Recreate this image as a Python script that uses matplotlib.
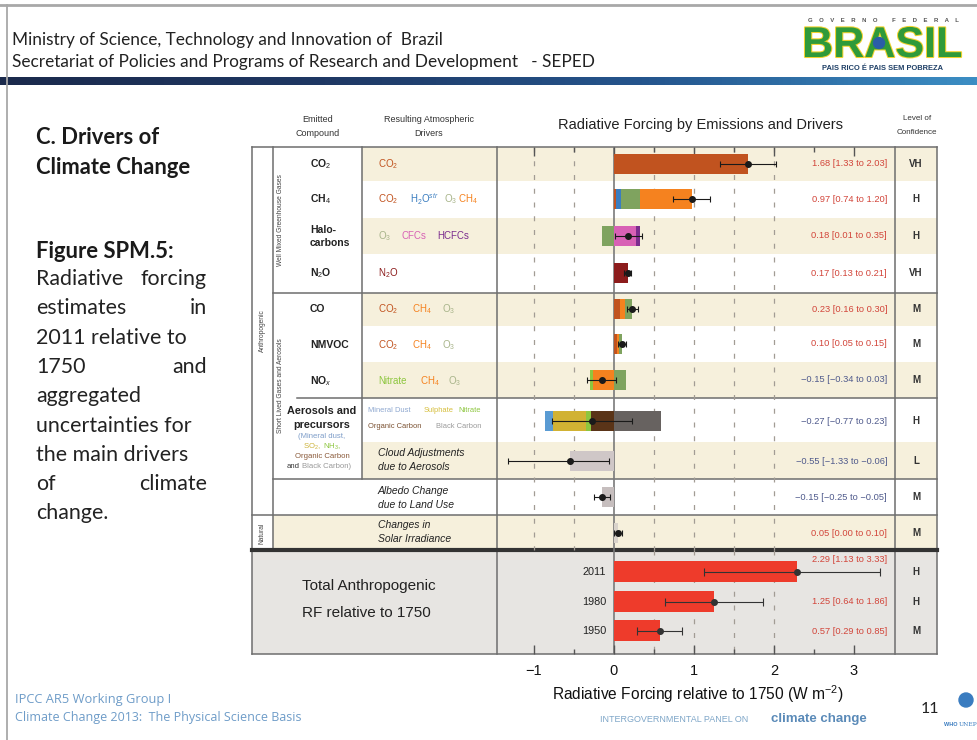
import numpy as np
import matplotlib.pyplot as plt
from matplotlib.colors import LinearSegmentedColormap
from matplotlib.patches import Circle, Rectangle
import matplotlib.patheffects as pe

plt.rcParams['font.family'] = ['Liberation Sans', 'DejaVu Sans']
plt.rcParams['mathtext.fontset'] = 'custom'
plt.rcParams['mathtext.rm'] = 'Liberation Sans'
plt.rcParams['mathtext.it'] = 'Liberation Sans:italic'
plt.rcParams['mathtext.bf'] = 'Liberation Sans:bold'

# ---- data: forcing by emitted compound (W m-2) ----
compounds = ['CO2', 'CH4', 'Halocarbons', 'N2O', 'CO', 'NMVOC', 'NOx',
             'Aerosols', 'Cloud', 'Albedo', 'Solar']
best = [1.68, 0.97, 0.18, 0.17, 0.23, 0.10, -0.15, -0.27, -0.55, -0.15, 0.05]
low = [1.33, 0.74, 0.01, 0.13, 0.16, 0.05, -0.34, -0.77, -1.33, -0.25, 0.00]
high = [2.03, 1.20, 0.35, 0.21, 0.30, 0.15, 0.03, 0.23, -0.06, -0.05, 0.10]
confidence = ['VH', 'H', 'H', 'VH', 'M', 'M', 'M', 'H', 'L', 'M', 'M']

# stacked components per row (driver, value), negatives stack outward from 0
parts_co2 = [('CO2', 1.68)]
parts_ch4 = [('CO2', 0.02), ('H2O', 0.07), ('O3', 0.24), ('CH4', 0.64)]
parts_halo = [('O3', -0.15), ('CFCs', 0.28), ('HCFCs', 0.05)]
parts_n2o = [('N2O', 0.17)]
parts_co = [('CO2', 0.07), ('CH4', 0.07), ('O3', 0.09)]
parts_nmvoc = [('CO2', 0.035), ('CH4', 0.025), ('O3', 0.04)]
parts_nox = [('CH4', -0.26), ('Nitrate', -0.04), ('O3', 0.15)]
parts_aer = [('OC', -0.29), ('Nitrate', -0.06), ('Sulphate', -0.41),
             ('Dust', -0.10), ('BC', 0.59)]
parts_cloud = [('Cloud', -0.55)]
parts_albedo = [('Albedo', -0.15)]
parts_solar = [('Solar', 0.05)]
all_parts = [parts_co2, parts_ch4, parts_halo, parts_n2o, parts_co, parts_nmvoc,
             parts_nox, parts_aer, parts_cloud, parts_albedo, parts_solar]

# total anthropogenic
years = ['2011', '1980', '1950']
total_best = [2.29, 1.25, 0.57]
total_low = [1.13, 0.64, 0.29]
total_high = [3.33, 1.86, 0.85]
total_conf = ['H', 'H', 'M']

# ---- styles ----
colors = {'CO2': '#C1531F', 'H2O': '#3A7DC0', 'O3': '#7FA35F', 'CH4': '#F5821F',
          'CFCs': '#D861B5', 'HCFCs': '#7B2D8E', 'N2O': '#8C1C1C',
          'Nitrate': '#8DC63F', 'Dust': '#5A9BD3', 'Sulphate': '#D1B233',
          'OC': '#5A3418', 'BC': '#676260', 'Cloud': '#CFC7C7',
          'Albedo': '#C6BEBE', 'Solar': '#D9D3CB'}
BEIGE = '#F6F0DC'
LINE = '#6E6E6E'
POS_TXT = '#D2453A'
NEG_TXT = '#4F5A8C'

W, H = 978, 740
fig = plt.figure(figsize=(W / 100, H / 100), dpi=100)
fig.patch.set_facecolor('white')
pg = fig.add_axes([0, 0, 1, 1])

# header gradient band
band = LinearSegmentedColormap.from_list('band', ['#1B2A4C', '#1F3864', '#25568E', '#3C8EC4'])
pg.imshow(np.linspace(0, 1, 256)[None, :], extent=(0, W, 85, 77), aspect='auto', cmap=band)
pg.set_xlim(0, W)
pg.set_ylim(H, 0)
pg.axis('off')

pg.plot([0, W], [5, 5], color='#A8A8A8', lw=2)
pg.plot([7, 7], [5, H], color='#A8A8A8', lw=1.3)

slide = ['Lato', 'DejaVu Sans']
pg.text(12, 40, 'Ministry of Science, Technology and Innovation of  Brazil',
        fontsize=12.4, family=slide, va='center', color='#222')
pg.text(12, 62, 'Secretariat of Policies and Programs of Research and Development   - SEPED',
        fontsize=12.4, family=slide, va='center', color='#222')

# Brasil logo
pg.text(883, 21, 'G    O    V    E    R    N    O         F    E    D    E    R    A    L',
        fontsize=4.3, fontweight='bold', ha='center', va='center', color='#555')
pg.text(882, 46, 'BRASIL', fontsize=31, fontweight='bold', ha='center', va='center',
        color='#2F9A3A', path_effects=[pe.withStroke(linewidth=1.5, foreground='#F2D22E')])
pg.add_patch(Circle((879, 43), 5.5, color='#2A5DA8', zorder=5))
pg.text(882, 68, 'PAIS RICO É PAIS SEM POBREZA', fontsize=5.4, fontweight='bold',
        ha='center', va='center', color='#1E3F66')

# left description
head = dict(fontsize=15.8, fontweight='bold', family=slide, va='center', color='#1a1a1a')
pg.text(36, 138, 'C. Drivers of', **head)
pg.text(36, 167, 'Climate Change', **head)
pg.text(36, 251, 'Figure SPM.5:', **head)
body = [('Radiative', 'forcing'), ('estimates', 'in'), ('2011 relative to', None),
        ('1750', 'and'), ('aggregated', None), ('uncertainties for', None),
        ('the main drivers', None), ('of', 'climate'), ('change.', None)]
for i, (a, b) in enumerate(body):
    y = 279 + i * 29.3
    pg.text(36, y, a, fontsize=15.4, family=slide, va='center', color='#222')
    if b:
        pg.text(207, y, b, fontsize=15.4, family=slide, va='center', ha='right', color='#222')

# footer
pg.text(15, 700, 'IPCC AR5 Working Group I', fontsize=9.3, family=['Open Sans'],
        va='center', color='#6E9CC8')
pg.text(15, 717, 'Climate Change 2013:  The Physical Science Basis', fontsize=9.0,
        family=['Open Sans'], va='center', color='#6E9CC8')
pg.text(600, 720, 'INTERGOVERNMENTAL PANEL ON', fontsize=6.5,
        va='center', color='#7EA6C8')
pg.text(771, 719, 'climate change', fontsize=9.5, fontweight='bold', va='center',
        color='#5A8AB8')
pg.text(930, 709, '11', fontsize=11.5, family=slide, ha='center', va='center', color='#222')
pg.add_patch(Circle((966, 700), 7, color='#3A7CC0'))
pg.text(951, 725, 'WHO', fontsize=4, fontweight='bold', ha='center', va='center', color='#3A7CC0')
pg.text(968, 725, 'UNEP', fontsize=4.3, family=['DejaVu Serif'], ha='center', va='center', color='#3A7CC0')

# ---- table geometry (pixels) ----
PL, PR, PT, PB = 252, 937, 147, 654
CL, CR = 497, 895
row_y = [164, 199, 236, 273, 309, 344, 380, 421, 461, 497, 533]
row_edges = [147, 181, 218, 254, 293, 326, 362, 398, 442, 479, 515, 550]
total_y = [572, 602, 631]

for i in range(0, 11, 2):
    x_start = 273 if i == 10 else 362
    pg.add_patch(Rectangle((x_start, row_edges[i]), PR - x_start,
                           row_edges[i + 1] - row_edges[i], color=BEIGE, lw=0, zorder=0.5))
pg.add_patch(Rectangle((PL, 550), PR - PL, PB - 550, color='#E7E5E2', lw=0, zorder=0.5))

lines = [((PL, PR), (PT, PT)), ((PL, PR), (PB, PB)), ((PL, PL), (PT, PB)), ((PR, PR), (PT, PB)),
         ((273, 273), (PT, 550)), ((362, 362), (PT, 479)), ((CL, CL), (PT, PB)),
         ((CR, CR), (PT, PB)), ((273, PR), (293, 293)), ((297, PR), (398, 398)),
         ((273, PR), (479, 479)), ((PL, PR), (515, 515))]
for xs, ys in lines:
    pg.plot(xs, ys, color=LINE, lw=1.1, zorder=1)
pg.plot([PL, PR], [550, 550], color='#333', lw=3, zorder=1)

# headers
hdr = dict(fontsize=6.5, ha='center', va='center', color='#333')
pg.text(318, 120, 'Emitted', **hdr)
pg.text(318, 133, 'Compound', **hdr)
pg.text(429, 120, 'Resulting Atmospheric', **hdr)
pg.text(429, 133, 'Drivers', **hdr)
pg.text(917, 119, 'Level of', fontsize=5.8, ha='center', va='center', color='#333')
pg.text(917, 132, 'Confidence', fontsize=5.8, ha='center', va='center', color='#333')
pg.text(700, 125, 'Radiative Forcing by Emissions and Drivers', fontsize=10.5,
        ha='center', va='center', color='#222')

# group labels
grp = dict(fontsize=4.8, rotation=90, ha='center', va='center', color='#444')
pg.text(262, 331, 'Anthropogenic', **grp)
pg.text(262, 533, 'Natural', **grp)
pg.text(281, 220, 'Well Mixed Greenhouse Gases', **grp)
pg.text(281, 386, 'Short Lived Gases and Aerosols', **grp)

# emitted compound column
cmp = dict(fontsize=7.5, fontweight='bold', va='center', color='#222')
for lab, y in [('CO$_2$', 164), ('CH$_4$', 199), ('Halo-', 230), ('carbons', 243),
               ('N$_2$O', 273), ('CO', 309), ('NMVOC', 345), ('NO$_x$', 381)]:
    pg.text(310, y, lab, **cmp)
pg.text(322, 411, 'Aerosols and', fontsize=7.8, fontweight='bold', ha='center', va='center', color='#222')
pg.text(322, 425, 'precursors', fontsize=7.8, fontweight='bold', ha='center', va='center', color='#222')
sm = dict(fontsize=5.6, va='center')
pg.text(322, 437, '(Mineral dust,', ha='center', color='#7C9CC8', **sm)
pg.text(321, 447, 'SO$_2$,', ha='right', color='#CDB33A', **sm)
pg.text(323, 447, 'NH$_3$,', ha='left', color='#8DC63F', **sm)
pg.text(322, 457, 'Organic Carbon', ha='center', color='#8A5A3A', **sm)
pg.text(300, 467, 'and', ha='right', color='#333', **sm)
pg.text(302, 467, 'Black Carbon)', ha='left', color='#999', **sm)

# resulting drivers column
drv = dict(fontsize=7, va='center')
driver_text = [
    (164, [(378, 'CO$_2$', 'CO2')]),
    (199, [(378, 'CO$_2$', 'CO2'), (410, 'H$_2$O$^{str}$', 'H2O'), (444, 'O$_3$', 'O3'),
           (458, 'CH$_4$', 'CH4')]),
    (236, [(378, 'O$_3$', 'O3'), (401, 'CFCs', 'CFCs'), (437, 'HCFCs', 'HCFCs')]),
    (273, [(378, 'N$_2$O', 'N2O')]),
    (309, [(378, 'CO$_2$', 'CO2'), (412, 'CH$_4$', 'CH4'), (442, 'O$_3$', 'O3')]),
    (345, [(378, 'CO$_2$', 'CO2'), (412, 'CH$_4$', 'CH4'), (442, 'O$_3$', 'O3')]),
    (381, [(378, 'Nitrate', 'Nitrate'), (420, 'CH$_4$', 'CH4'), (448, 'O$_3$', 'O3')]),
]
for y, words in driver_text:
    for x, w, key in words:
        c = '#A8B48A' if key == 'O3' else colors[key]
        pg.text(x, y, w, color=c, **drv)
aer = dict(fontsize=5.4, va='center')
pg.text(368, 410, 'Mineral Dust', color='#8FA8D0', **aer)
pg.text(424, 410, 'Sulphate', color='#D6BE3C', **aer)
pg.text(458, 410, 'Nitrate', color='#8DC63F', **aer)
pg.text(368, 426, 'Organic Carbon', color='#7A5030', **aer)
pg.text(436, 426, 'Black Carbon', color='#9A9A9A', **aer)
ital = dict(fontsize=7.5, style='italic', va='center', color='#222')
pg.text(378, 453, 'Cloud Adjustments', **ital)
pg.text(378, 467, 'due to Aerosols', **ital)
pg.text(378, 491, 'Albedo Change', **ital)
pg.text(378, 505, 'due to Land Use', **ital)
pg.text(378, 525, 'Changes in', **ital)
pg.text(378, 539, 'Solar Irradiance', **ital)

# value labels and confidence
for y, b, lo, hi, cf in zip(row_y, best, low, high, confidence):
    pg.text(887, y, f'{b:.2f} [{lo:.2f} to {hi:.2f}]'.replace('-', '\u2212'),
            fontsize=6.7, ha='right', va='center', color=POS_TXT if b > 0 else NEG_TXT)
    pg.text(916, y, cf, fontsize=7, fontweight='bold', ha='center', va='center', color='#333')
label_y = [560, 602, 631]
for y, ly, b, lo, hi, cf, yr in zip(total_y, label_y, total_best, total_low, total_high,
                                    total_conf, years):
    pg.text(887, ly, f'{b:.2f} [{lo:.2f} to {hi:.2f}]', fontsize=6.7, ha='right',
            va='center', color=POS_TXT)
    pg.text(916, y, cf, fontsize=7, fontweight='bold', ha='center', va='center', color='#333')
    pg.text(606, y, yr, fontsize=7.8, ha='right', va='center', color='#222')
pg.text(302, 586, 'Total Anthropogenic', fontsize=11, va='center', color='#222')
pg.text(302, 613, 'RF relative to 1750', fontsize=11, va='center', color='#222')

# ---- bar chart axes ----
X0, SCALE = 614, 80.0
ax = fig.add_axes([CL / W, 1 - PB / H, (CR - CL) / W, (PB - PT) / H], zorder=2)
ax.set_facecolor('none')
ax.set_xlim((CL - X0) / SCALE, (CR - X0) / SCALE)
ax.set_ylim(PB, PT)
for s in ax.spines.values():
    s.set_visible(False)

dash = (0, (4, 7))
for v in [-1, -0.5, 0.5, 1, 1.5, 2]:
    ax.vlines(v, PT, 550, colors='#A29C94', linestyles=dash, lw=0.9, zorder=0)
for v in [0.5, 1, 1.5, 2]:
    ax.vlines(v, 550, PB, colors='#A29C94', linestyles=dash, lw=0.9, zorder=0)
ax.axvline(0, color='#7A7A7A', lw=1.2, zorder=1)

for y, parts in zip(row_y, all_parts):
    pos, neg = 0.0, 0.0
    for key, v in parts:
        if v >= 0:
            ax.barh(y, v, left=pos, height=20, color=colors[key], lw=0, zorder=2)
            pos += v
        else:
            ax.barh(y, v, left=neg, height=20, color=colors[key], lw=0, zorder=2)
            neg += v

b = np.array(best)
ax.errorbar(b, row_y, xerr=[b - np.array(low), np.array(high) - b], fmt='o', color='#1a1a1a',
            ms=4, elinewidth=0.8, capsize=2.5, capthick=0.8, zorder=3)

tb = np.array(total_best)
ax.barh(total_y, tb, height=21, color='#EE3B2B', lw=0, zorder=2)
ax.errorbar(tb, total_y, xerr=[tb - np.array(total_low), np.array(total_high) - tb], fmt='o',
            color='#333', ms=4, elinewidth=0.8, capsize=3, capthick=0.8, zorder=3)

ax.set_yticks([])
ax.set_xticks([-1, 0, 1, 2, 3])
ax.set_xticks([-0.5, 0.5, 1.5, 2.5], minor=True)
ax.tick_params(axis='x', which='both', direction='in', top=True, bottom=True,
               color='#555', labelsize=10.5, pad=7, labelcolor='#111')
ax.tick_params(axis='x', which='major', length=6.5, width=1)
ax.tick_params(axis='x', which='minor', length=3.5, width=1)

pg.text(698, 694, 'Radiative Forcing relative to 1750 (W m$^{-2}$)', fontsize=11.2,
        ha='center', va='center', color='#111')

fig.savefig('out.png', dpi=100)
